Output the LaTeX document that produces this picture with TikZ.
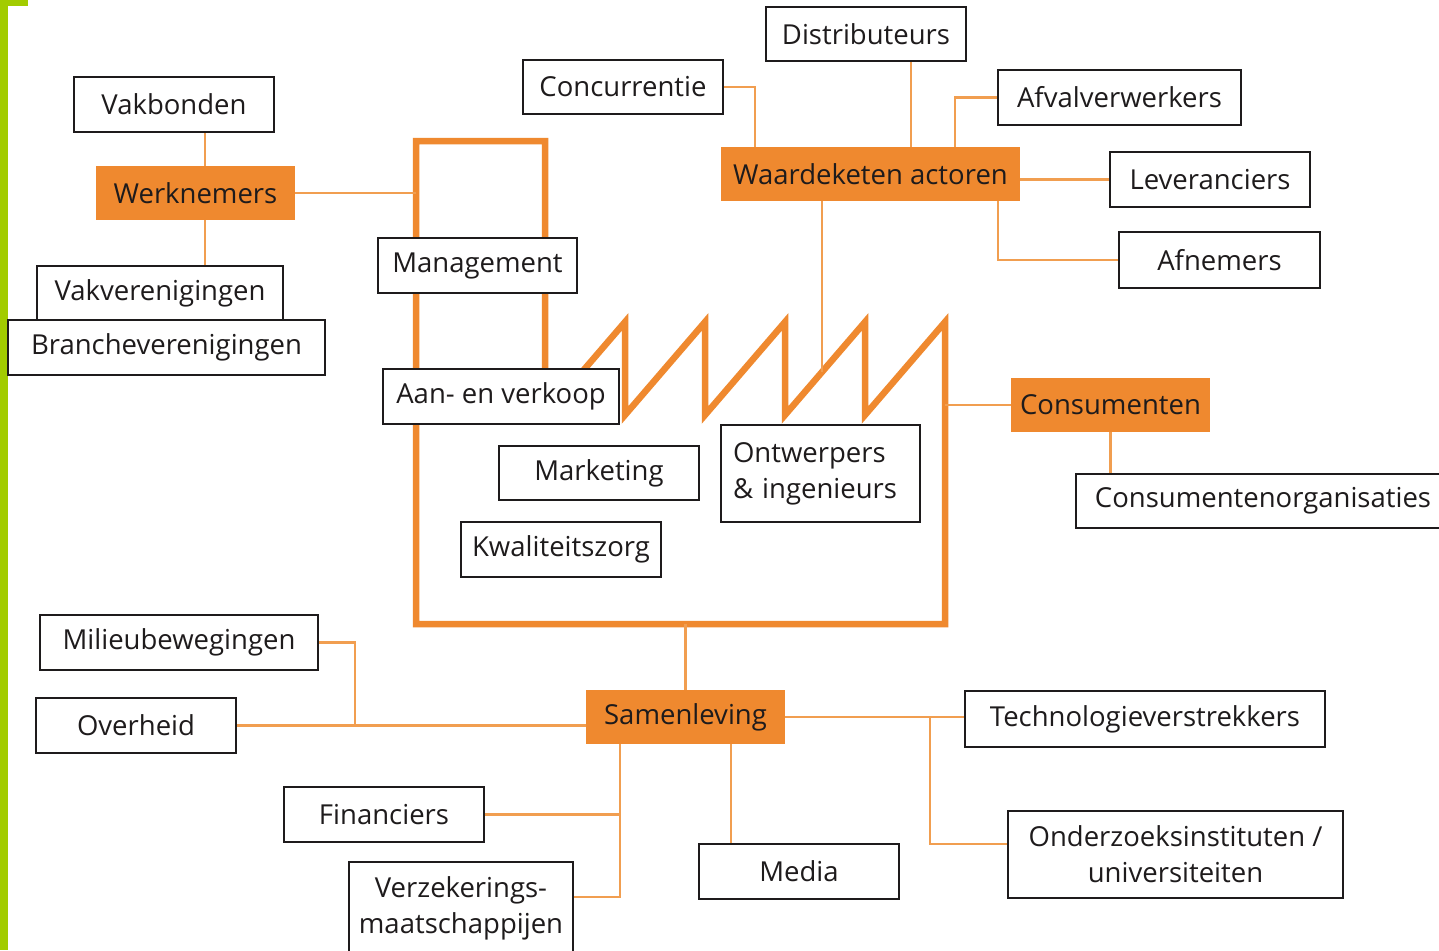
\documentclass[tikz,border=0pt]{standalone}
\usepackage{fontspec}
\setmainfont{Open Sans}
\definecolor{forange}{RGB}{239,137,47}
\definecolor{lorange}{RGB}{241,158,80}
\definecolor{lgreen}{RGB}{162,204,0}
\definecolor{txt}{RGB}{30,27,28}
\tikzset{
  wh/.style 2 args={minimum width=#1pt, minimum height=#2pt},
  bx/.style={draw=txt, line width=2.3pt, fill=white, inner sep=0pt, text=txt,
    font=\fontsize{27.5}{36}\selectfont, align=center},
  obx/.style={fill=forange, inner sep=0pt, text=txt,
    font=\fontsize{27.5}{36}\selectfont},
  conn/.style={draw=lorange, line width=2.4pt},
  fact/.style={draw=forange, line width=6.5pt}
}
\begin{document}
\begin{tikzpicture}[x=1pt,y=-1pt]
\clip (0,0) rectangle (1439,950);
\fill[white] (0,0) rectangle (1439,950);
\fill[lgreen] (0,0) rectangle (8,950);
\fill[lgreen] (0,0) rectangle (28,6);

% factory outline coordinates
\coordinate (fS) at (545,415);
\coordinate (fTR) at (545,141);
\coordinate (fTL) at (416,141);
\coordinate (fBL) at (416,624);
\coordinate (fBR) at (945,624);
\coordinate (p5) at (945,322);
\coordinate (v4) at (865,415);
\coordinate (p4) at (865,322);
\coordinate (v3) at (785,415);
\coordinate (p3) at (785,322);
\coordinate (v2) at (705,415);
\coordinate (p2) at (705,322);
\coordinate (v1) at (625,415);
\coordinate (p1) at (625,322);
\draw[fact] (fS) -- (fTR) -- (fTL) -- (fBL) -- (fBR) -- (p5) -- (v4) -- (p4) -- (v3) -- (p3) -- (v2) -- (p2) -- (v1) -- (p1) -- cycle;

% junction coordinates
\coordinate (jw) at (205,0);
\coordinate (jc) at (755,0);
\coordinate (jd) at (911,0);
\coordinate (ja) at (955,0);
\coordinate (jf) at (998,0);
\coordinate (sawhit) at (822,372);
\coordinate (jm) at (355,0);
\coordinate (jt) at (930,0);
\coordinate (jo) at (930,844);
\coordinate (jv) at (620,897);
\coordinate (jmed) at (731,0);

% nodes
\node[bx, wh={200}{55}] (vakb) at (174,104.5) {Vakbonden};
\node[obx, wh={199}{54}] (werkn) at (195.5,193) {Werknemers};
\node[bx, wh={246}{54}] (vakv) at (160,293) {Vakverenigingen};
\node[bx, wh={317}{55}] (branche) at (166.5,347.5) {Brancheverenigingen};
\node[bx, wh={199}{55}] (mgmt) at (477.5,265.5) {Management};
\node[bx, wh={236}{55}] (aanv) at (501,396.5) {Aan- en verkoop};
\node[bx, wh={200}{54}] (mark) at (599,473) {Marketing};
\node[bx, wh={200}{55}] (kwal) at (561,549.5) {Kwaliteitszorg};
\node[bx, wh={199}{97}, align=left, text width=175pt] (ontw) at (820.5,473.5) {Ontwerpers\\\&~ingenieurs};
\node[bx, wh={200}{54}] (conc) at (623,87) {Concurrentie};
\node[bx, wh={200}{54}] (distr) at (866,34) {Distributeurs};
\node[bx, wh={243}{55}] (afval) at (1119.5,97.5) {Afvalverwerkers};
\node[obx, wh={299}{54}] (waarde) at (870.5,174) {Waardeketen actoren};
\node[bx, wh={200}{55}] (lever) at (1210,179.5) {Leveranciers};
\node[bx, wh={201}{56}] (afnem) at (1219.5,260) {Afnemers};
\node[obx, wh={199}{54}] (consu) at (1110.5,405) {Consumenten};
\node[bx, wh={374}{54}] (consorg) at (1263,501) {Consumentenorganisaties};
\node[bx, wh={278}{55}] (milieu) at (179,642.5) {Milieubewegingen};
\node[bx, wh={200}{55}] (overh) at (136,725.5) {Overheid};
\node[obx, wh={199}{54}] (samen) at (685.5,717) {Samenleving};
\node[bx, wh={360}{56}] (techn) at (1145,719) {Technologieverstrekkers};
\node[bx, wh={200}{55}] (finan) at (384,814.5) {Financiers};
\node[bx, wh={224}{92}] (verz) at (461,908) {Verzekerings-\\maatschappijen};
\node[bx, wh={200}{55}] (media) at (799,871.5) {Media};
\node[bx, wh={335}{87}] (onder) at (1175.5,854.5) {Onderzoeksinstituten /\\universiteiten};

% connectors
\draw[conn] (vakb.south -| jw) -- (werkn.north -| jw);
\draw[conn] (werkn.south -| jw) -- (vakv.north -| jw);
\draw[conn] (werkn.east) -- (werkn.east -| fTL);
\draw[conn] (conc.east) -| (waarde.north -| jc);
\draw[conn] (distr.south -| jd) -- (waarde.north -| jd);
\draw[conn] (afval.west) -| (waarde.north -| ja);
\draw[conn] (lever.west) -- (lever.west -| waarde.east);
\draw[conn] (waarde.south -| jf) |- (afnem.west);
\draw[conn] (waarde.south -| sawhit) -- (sawhit);
\draw[conn] (consu.west) -- (consu.west -| fBR);
\draw[conn] (consu.south) -- (consu.south |- consorg.north);
\draw[conn] (samen.north) -- (samen.north |- fBL);
\draw[conn] (overh.east) -- (overh.east -| samen.west);
\draw[conn] (milieu.east) -| (overh.east -| jm);
\draw[conn] (samen.east) -- (samen.east -| techn.west);
\draw[conn] (samen.east -| jt) -- (jo) -- (jo -| onder.west);
\draw[conn] (samen.south -| jv) -- (jv) -- (jv -| verz.east);
\draw[conn] (finan.east) -- (finan.east -| jv);
\draw[conn] (samen.south -| jmed) -- (media.north -| jmed);
\end{tikzpicture}
\end{document}
